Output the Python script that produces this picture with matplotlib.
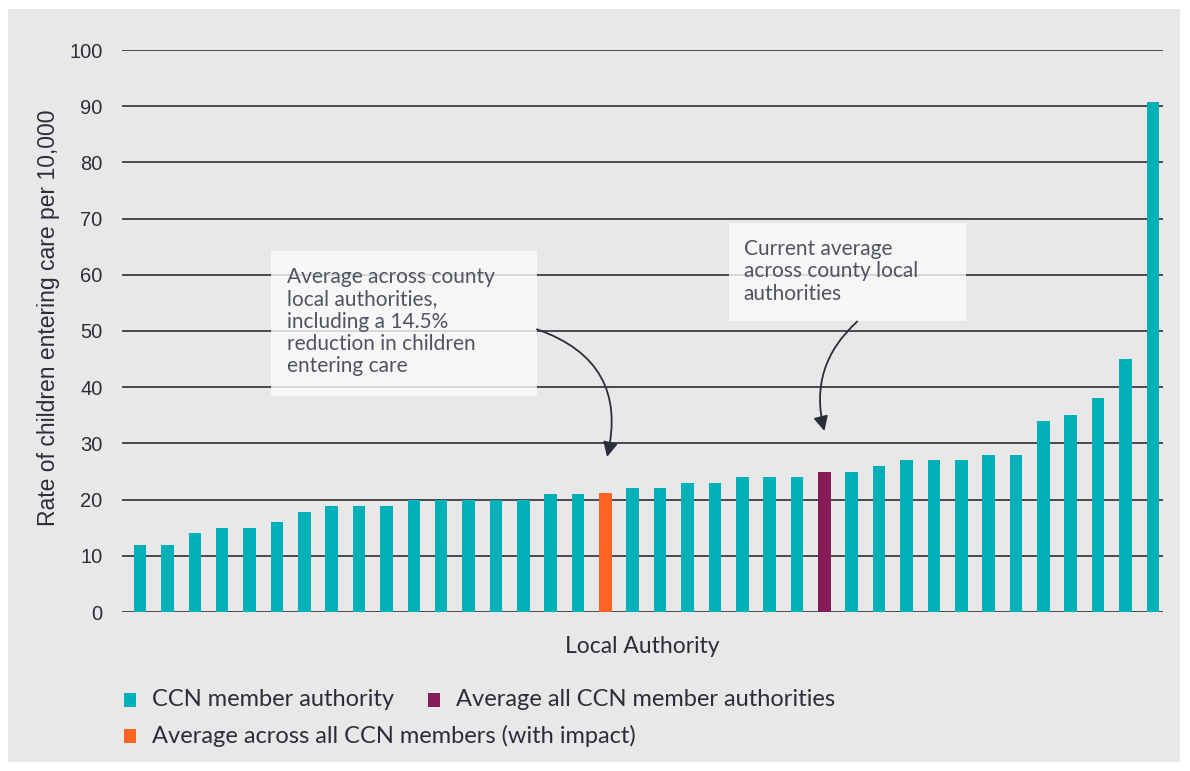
import matplotlib.pyplot as plt
from matplotlib.patches import Rectangle

# data
rates = [12, 12, 14, 15, 15, 16, 17.8, 18.8, 18.8, 18.8, 20, 20, 20, 20, 20, 21, 21,
         21.2, 22, 22, 23, 23, 24, 24, 24, 24.9, 25, 26, 27, 27, 27, 28, 28,
         34, 35, 38, 45, 90.8]
kinds = ['member'] * 38
kinds[17] = 'impact'
kinds[25] = 'average'
colours = {'member': '#00B0B9', 'average': '#851C58', 'impact': '#FF6422'}
legend_labels = {'member': 'CCN member authority',
                 'average': 'Average all CCN member authorities',
                 'impact': 'Average across all CCN members (with impact)'}
note_impact = "Average across county\nlocal authorities,\nincluding a 14.5%\nreduction in children\nentering care"
note_current = "Current average\nacross county local\nauthorities"

bg = '#E8E8E8'
txt = '#2B2E38'
note_col = '#505460'

fig = plt.figure(figsize=(11.9, 7.71), dpi=100)
fig.patch.set_facecolor('white')
fig.patches.append(Rectangle((8 / 1190, 9 / 771), 1172 / 1190, 753 / 771,
                             transform=fig.transFigure, facecolor=bg,
                             edgecolor='none', zorder=-5))

ax = fig.add_axes([122 / 1190, 159 / 771, 1041 / 1190, 562 / 771])
ax.set_facecolor('none')

x = list(range(len(rates)))
ax.bar(x, rates, width=0.46, color=[colours[k] for k in kinds], zorder=3)

ax.set_ylim(0, 100)
ax.set_xlim(-0.66, len(rates) - 0.63)
ax.set_yticks(range(0, 101, 10))
ax.set_xticks([])
ax.yaxis.grid(True, color='#3A3D46', linewidth=1.3, zorder=1)
ax.set_axisbelow(True)
ax.tick_params(axis='y', length=0, pad=14, labelsize=14.5, labelcolor=txt)
for lab in ax.get_yticklabels():
    lab.set_family('Liberation Sans')
for s in ax.spines.values():
    s.set_visible(False)

ax.set_ylabel('Rate of children entering care per 10,000', fontsize=16.5,
              color=txt, family='Liberation Sans')
ax.yaxis.set_label_coords(-0.06, 0.524)
ax.set_xlabel('Local Authority', fontsize=16.5, color=txt, family='Lato', labelpad=17)

# annotation boxes (slightly see-through like the reference)
ax.add_patch(Rectangle((4.78, 38.4), 9.72, 25.8, facecolor='#FCFCFC', alpha=0.8,
                       edgecolor='none', zorder=4))
ax.text(5.36, 61.3, note_impact, fontsize=15, color=note_col, va='top',
        ha='left', linespacing=1.13, family='Lato', zorder=5)
ax.add_patch(Rectangle((21.5, 51.7), 8.67, 17.5, facecolor='#FCFCFC', alpha=0.8,
                       edgecolor='none', zorder=4))
ax.text(22.05, 66.3, note_current, fontsize=15, color=note_col, va='top',
        ha='left', linespacing=1.13, family='Lato', zorder=5)

ax.annotate('', xy=(17.06, 27.6), xytext=(14.5, 50.3),
            arrowprops=dict(arrowstyle='-|>', color='#2B2E38', lw=1.3,
                            mutation_scale=22, shrinkA=0, shrinkB=0,
                            connectionstyle='arc3,rad=-0.45'), zorder=6)
ax.annotate('', xy=(25.0, 32.2), xytext=(26.2, 51.7),
            arrowprops=dict(arrowstyle='-|>', color='#2B2E38', lw=1.3,
                            mutation_scale=22, shrinkA=0, shrinkB=0,
                            connectionstyle='arc3,rad=0.3'), zorder=6)

# legend drawn by hand to keep the reference layout
items = [('member', 124, 700), ('average', 428, 700), ('impact', 124, 736)]
for k, px, py in items:
    fig.patches.append(Rectangle((px / 1190, (771 - py - 7) / 771), 12 / 1190, 14 / 771,
                                 transform=fig.transFigure, facecolor=colours[k],
                                 edgecolor='none', zorder=2))
    fig.text((px + 28) / 1190, (771 - py) / 771, legend_labels[k], fontsize=17,
             color=txt, family='Lato', va='center', ha='left')

fig.savefig('out.png', dpi=100, facecolor=fig.get_facecolor())
